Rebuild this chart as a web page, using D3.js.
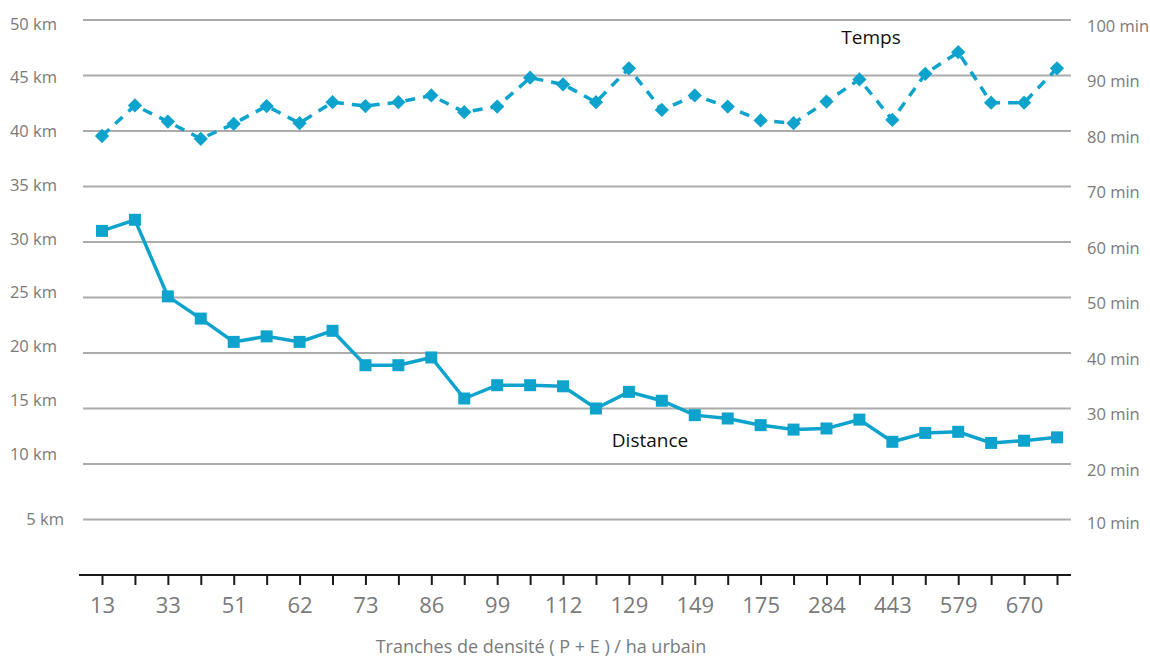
<!DOCTYPE html>
<html lang="fr">
<head>
  <meta charset="UTF-8">
  <title>Distance et temps selon la densité</title>
  <script src="https://cdn.jsdelivr.net/npm/d3@7/dist/d3.min.js"></script>
  <style>
    body {
      margin: 0;
      background: #fff;
      font-family: 'Open Sans', sans-serif;
    }
    svg { display: block; }
  </style>
</head>
<body>
  <svg id="chart"></svg>

  <script>
    // tranches de densité (one point per tranche, label on every other one)
    const categories = [
      "13", "23", "33", "42", "51", "57", "62", "68", "73", "80",
      "86", "93", "99", "106", "112", "120", "129", "139", "149", "161",
      "175", "220", "284", "360", "443", "510", "579", "625", "670", "750"
    ];
    const shownLabels = ["13", "33", "51", "62", "73", "86", "99", "112", "129", "149", "175", "284", "443", "579", "670"];

    // distance in km (left axis)
    const distance = [
      31.0, 32.0, 25.1, 23.1, 21.0, 21.5, 21.0, 22.0, 18.9, 18.9,
      19.6, 15.9, 17.1, 17.1, 17.0, 15.0, 16.5, 15.7, 14.4, 14.1,
      13.5, 13.1, 13.2, 14.0, 12.0, 12.8, 12.9, 11.9, 12.1, 12.4
    ];

    // temps in minutes (right axis)
    const temps = [
      79.1, 84.6, 81.7, 78.6, 81.3, 84.5, 81.4, 85.2, 84.5, 85.2,
      86.4, 83.4, 84.4, 89.6, 88.4, 85.2, 91.3, 83.8, 86.4, 84.4,
      81.9, 81.4, 85.3, 89.3, 82.0, 90.3, 94.2, 85.1, 85.1, 91.3
    ];

    const kmTicks = [5, 10, 15, 20, 25, 30, 35, 40, 45, 50];
    const minTicks = [10, 20, 30, 40, 50, 60, 70, 80, 90, 100];

    const width = 1150;
    const height = 659;
    const color = "#0ea3cd";

    const svg = d3.select("#chart")
      .attr("width", width)
      .attr("height", height);

    const x = d3.scalePoint()
      .domain(categories)
      .range([102, 1057]);

    const yKm = d3.scaleLinear().domain([0, 50]).range([575, 20]);
    const yMin = d3.scaleLinear().domain([0, 100]).range([575, 20]);

    // left labels were placed a bit tighter than the grid in the original
    const kmLabelY = d3.scaleLinear().domain([10, 50]).range([453, 23]);

    // gridlines
    svg.append("g")
      .selectAll("line")
      .data(kmTicks)
      .join("line")
      .attr("x1", 83)
      .attr("x2", 1071)
      .attr("y1", d => yKm(d))
      .attr("y2", d => yKm(d))
      .attr("stroke", "#ababab")
      .attr("stroke-width", 2);

    // left axis labels
    svg.append("g")
      .selectAll("text")
      .data(kmTicks)
      .join("text")
      .attr("x", d => d < 10 ? 64 : 57)
      .attr("y", d => d < 10 ? yKm(d) - 1 : kmLabelY(d))
      .attr("text-anchor", "end")
      .attr("dominant-baseline", "central")
      .attr("fill", "#7a7a7a")
      .style("font-size", "16.5px")
      .text(d => `${d} km`);

    // right axis labels
    svg.append("g")
      .selectAll("text")
      .data(minTicks)
      .join("text")
      .attr("x", 1087)
      .attr("y", d => yMin(d) + (d === 10 ? 3 : 5))
      .attr("dominant-baseline", "central")
      .attr("fill", "#7a7a7a")
      .style("font-size", "16.5px")
      .text(d => `${d} min`);

    // x axis
    const xAxis = d3.axisBottom(x)
      .tickSize(10)
      .tickSizeOuter(0)
      .tickFormat(d => shownLabels.includes(d) ? d : "");

    const gx = svg.append("g")
      .attr("transform", "translate(0,575)")
      .call(xAxis);

    gx.select(".domain").remove();
    gx.append("line")
      .attr("x1", 79)
      .attr("x2", 1071)
      .attr("stroke", "#1a1a1a")
      .attr("stroke-width", 2);
    gx.selectAll(".tick line")
      .attr("stroke", "#1a1a1a")
      .attr("stroke-width", 2);
    gx.selectAll(".tick text")
      .attr("y", 22)
      .attr("fill", "#7a7a7a")
      .style("font-family", "'Open Sans', sans-serif")
      .style("font-size", "22px");

    svg.append("text")
      .attr("x", 541)
      .attr("y", 646)
      .attr("text-anchor", "middle")
      .attr("dominant-baseline", "central")
      .attr("fill", "#7a7a7a")
      .style("font-size", "18px")
      .text("Tranches de densité ( P + E ) / ha urbain");

    // temps line (dashed, diamonds)
    const tempsLine = d3.line()
      .x((d, i) => x(categories[i]))
      .y(d => yMin(d));

    svg.append("path")
      .datum(temps)
      .attr("d", tempsLine)
      .attr("fill", "none")
      .attr("stroke", color)
      .attr("stroke-width", 3.5)
      .attr("stroke-dasharray", "10,8");

    svg.append("g")
      .selectAll("path")
      .data(temps)
      .join("path")
      .attr("d", d3.symbol(d3.symbolDiamond2, 130))
      .attr("transform", (d, i) => `translate(${x(categories[i])},${yMin(d)})`)
      .attr("fill", color);

    // distance line (solid, squares)
    const distLine = d3.line()
      .x((d, i) => x(categories[i]))
      .y(d => yKm(d));

    svg.append("path")
      .datum(distance)
      .attr("d", distLine)
      .attr("fill", "none")
      .attr("stroke", color)
      .attr("stroke-width", 3.5);

    svg.append("g")
      .selectAll("rect")
      .data(distance)
      .join("rect")
      .attr("x", (d, i) => x(categories[i]) - 6)
      .attr("y", d => yKm(d) - 6)
      .attr("width", 12)
      .attr("height", 12)
      .attr("fill", color);

    // series labels
    svg.append("text")
      .attr("x", 871)
      .attr("y", 37)
      .attr("text-anchor", "middle")
      .attr("dominant-baseline", "central")
      .attr("fill", "#111")
      .style("font-size", "19px")
      .text("Temps");

    svg.append("text")
      .attr("x", 650)
      .attr("y", 440)
      .attr("text-anchor", "middle")
      .attr("dominant-baseline", "central")
      .attr("fill", "#111")
      .style("font-size", "19px")
      .text("Distance");
  </script>
</body>
</html>
